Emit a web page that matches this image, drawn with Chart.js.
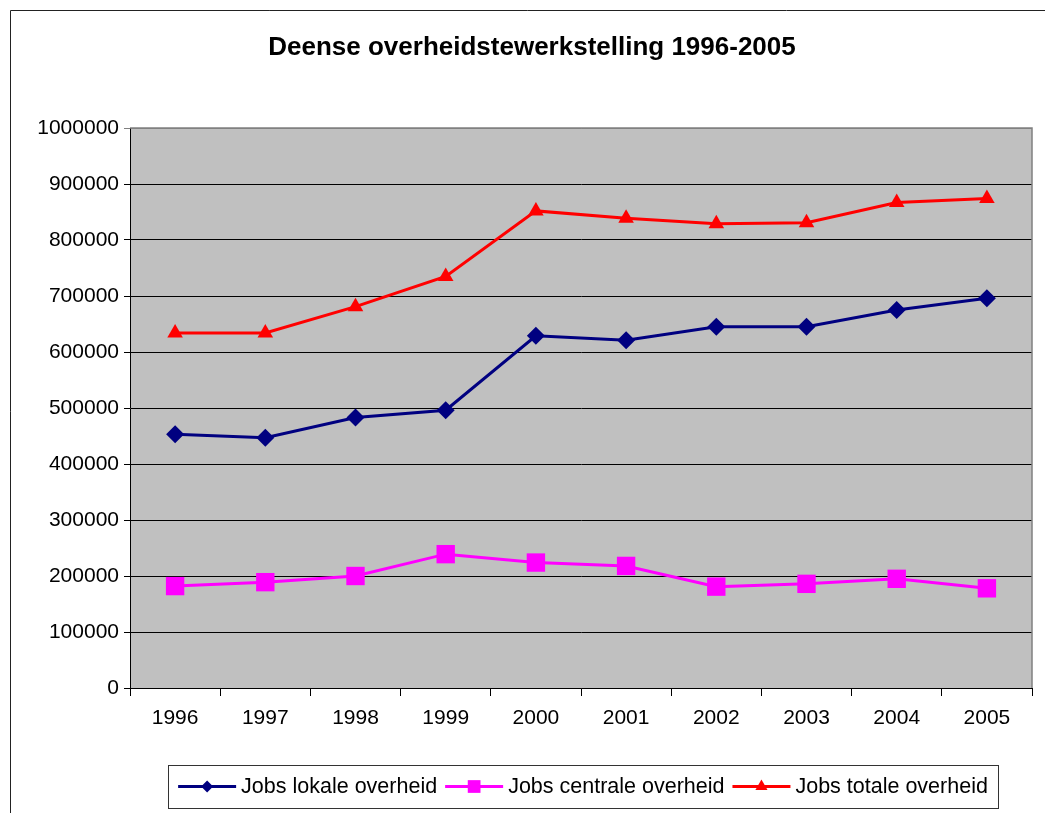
<!doctype html>
<html lang="nl">
<head>
    <meta charset="utf-8">
    <title>Deense overheidstewerkstelling 1996-2005</title>
    <script src="https://cdn.jsdelivr.net/npm/chart.js@4.4.0/dist/chart.umd.min.js"></script>
</head>
<style>
    body{
        margin: 0;
        background: #fff;
        font-family: 'Liberation Sans', Arial, sans-serif;
    }
</style>
<body>
    <canvas id="myChart" width="1045" height="813"></canvas>
<script>
    // data
    let years = ["1996", "1997", "1998", "1999", "2000", "2001", "2002", "2003", "2004", "2005"];
    let lokale = [453000, 447000, 483000, 496000, 629000, 621000, 645000, 645000, 675000, 696000];
    let centrale = [182000, 189000, 200000, 239000, 224000, 218000, 181000, 186000, 195000, 178000];
    let totale = [634000, 634000, 681000, 735000, 852000, 839000, 829000, 831000, 867000, 874000];
    let seriesNames = ["Jobs lokale overheid", "Jobs centrale overheid", "Jobs totale overheid"];
    let chartTitle = "Deense overheidstewerkstelling 1996-2005";

    let FONT = "'Liberation Sans', Arial, sans-serif";

    let drawMarker = (ctx, style, x, y, r, color) => {
        ctx.save();
        ctx.fillStyle = color;
        ctx.beginPath();
        if (style == "rectRot") {
            ctx.moveTo(x - r, y);
            ctx.lineTo(x, y - r);
            ctx.lineTo(x + r, y);
            ctx.lineTo(x, y + r);
        } else if (style == "rect") {
            let s = r * Math.SQRT1_2;
            ctx.rect(x - s, y - s, 2 * s, 2 * s);
        } else {
            ctx.moveTo(x, y - r);
            ctx.lineTo(x + r * Math.sqrt(3) / 2, y + r / 2);
            ctx.lineTo(x - r * Math.sqrt(3) / 2, y + r / 2);
        }
        ctx.closePath();
        ctx.fill();
        ctx.restore();
    }

    // frame, plot background, title and legend in the old spreadsheet look
    let excelLook = {
        id: "excelLook",
        beforeDraw: (chart) => {
            let ctx = chart.ctx;
            let a = chart.chartArea;
            ctx.save();
            ctx.strokeStyle = "#222";
            ctx.lineWidth = 1;
            ctx.beginPath();
            ctx.moveTo(10.5, 813);
            ctx.lineTo(10.5, 10.5);
            ctx.lineTo(1045, 10.5);
            ctx.stroke();
            ctx.fillStyle = "#c0c0c0";
            ctx.fillRect(a.left, a.top, a.right - a.left, a.bottom - a.top);
            ctx.restore();
        },
        afterDraw: (chart) => {
            let ctx = chart.ctx;
            let a = chart.chartArea;
            ctx.save();
            ctx.strokeStyle = "#808080";
            ctx.lineWidth = 1.5;
            ctx.beginPath();
            ctx.moveTo(a.left, a.top);
            ctx.lineTo(a.right, a.top);
            ctx.lineTo(a.right, a.bottom);
            ctx.stroke();

            ctx.fillStyle = "#000";
            ctx.font = "bold 26px " + FONT;
            ctx.textAlign = "center";
            ctx.textBaseline = "middle";
            ctx.fillText(chartTitle, 532, 48);

            // legend
            ctx.font = "21.5px " + FONT;
            ctx.textAlign = "left";
            let sample = 58, gap = 5, itemGap = 8;
            let legendR = [6, 9, 7];
            let items = chart.data.datasets.map(ds => ({ds: ds, w: ctx.measureText(ds.label).width}));
            let total = items.reduce((s, it) => s + sample + gap + it.w, 0) + itemGap * (items.length - 1);
            let boxL = 168, boxR = 998, boxT = 765, boxB = 808;
            let x = (boxL + boxR) / 2 - total / 2;
            let cy = (boxT + boxB) / 2;
            ctx.strokeStyle = "#333";
            ctx.lineWidth = 1;
            ctx.strokeRect(boxL + 0.5, boxT + 0.5, boxR - boxL, boxB - boxT);
            items.forEach((it, i) => {
                ctx.strokeStyle = it.ds.borderColor;
                ctx.lineWidth = 3;
                ctx.beginPath();
                ctx.moveTo(x, cy);
                ctx.lineTo(x + sample, cy);
                ctx.stroke();
                drawMarker(ctx, it.ds.pointStyle, x + sample / 2, cy, legendR[i], it.ds.borderColor);
                ctx.fillStyle = "#000";
                ctx.fillText(it.ds.label, x + sample + gap, cy + 1);
                x += sample + gap + it.w + itemGap;
            });
            ctx.restore();
        }
    };

    let makeSet = (label, data, color, style, radius) => ({
        label: label,
        data: data,
        borderColor: color,
        backgroundColor: color,
        borderWidth: 3,
        pointStyle: style,
        pointRadius: radius,
        pointHoverRadius: radius,
        pointBorderWidth: 0,
        tension: 0
    });

    let myChart = new Chart(document.getElementById("myChart"), {
        type: "line",
        data: {
            labels: years,
            datasets: [
                makeSet(seriesNames[0], lokale, "#000080", "rectRot", 9),
                makeSet(seriesNames[1], centrale, "#ff00ff", "rect", 13),
                makeSet(seriesNames[2], totale, "#ff0000", "triangle", 9)
            ]
        },
        options: {
            responsive: false,
            animation: false,
            devicePixelRatio: 1,
            layout: {padding: {top: 128, left: 10, right: 10, bottom: 0}},
            plugins: {
                legend: {display: false},
                title: {display: false},
                tooltip: {enabled: false}
            },
            scales: {
                x: {
                    offset: true,
                    afterFit: (s) => { s.height = 125; },
                    grid: {
                        offset: true,
                        drawOnChartArea: false,
                        color: "#000",
                        tickLength: 8
                    },
                    border: {color: "#000", width: 1},
                    ticks: {
                        color: "#000",
                        padding: 10,
                        maxRotation: 0,
                        font: {family: FONT, size: 21}
                    }
                },
                y: {
                    min: 0,
                    max: 1000000,
                    afterFit: (s) => { s.width = 120; },
                    grid: {
                        color: (c) => c.tick && c.tick.value == 1000000 ? "#808080" : "#000",
                        tickLength: 6
                    },
                    border: {color: "#000", width: 1},
                    ticks: {
                        stepSize: 100000,
                        color: "#000",
                        padding: 5,
                        font: {family: FONT, size: 21},
                        callback: (v) => String(v)
                    }
                }
            }
        },
        plugins: [excelLook]
    });
</script>
</body>
</html>
